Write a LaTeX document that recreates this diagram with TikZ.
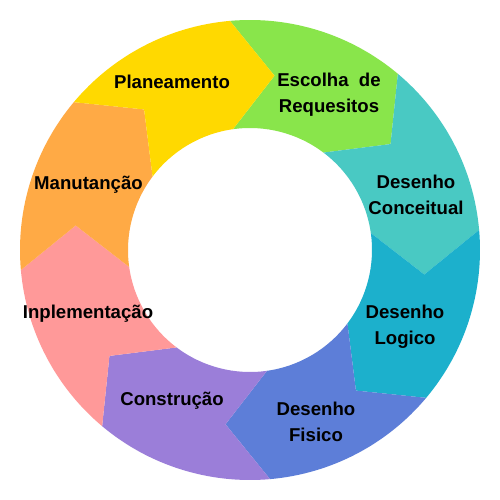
\documentclass[tikz,border=0pt]{standalone}
\usepackage{fontspec}
\setmainfont{Liberation Sans}
\definecolor{cYellow}{HTML}{FFD900}
\definecolor{cGreen}{HTML}{89E54B}
\definecolor{cTeal}{HTML}{49C9C3}
\definecolor{cCyan}{HTML}{1CB0CC}
\definecolor{cBlue}{HTML}{5D7ED8}
\definecolor{cPurple}{HTML}{9B7ED9}
\definecolor{cPink}{HTML}{FF9999}
\definecolor{cOrange}{HTML}{FFAA45}
\tikzset{
  lbl/.style={font=\fontsize{18.6}{26}\selectfont\bfseries, align=center, text=black, inner sep=0pt},
  onel/.style={lbl, text depth=0pt}
}
\begin{document}
\begin{tikzpicture}
\useasboundingbox[fill=white] (-250pt,-250pt) rectangle (250pt,250pt);
\foreach \a/\c in {95/cGreen, 50/cTeal, 5/cCyan, -40/cBlue, -85/cPurple, -130/cPink, -175/cOrange, -220/cYellow} {
  \pgfmathsetmacro\b{\a-45}
  \pgfmathsetmacro\bt{\b-13}
  \pgfmathsetmacro\bi{\b+3}
  \pgfmathsetmacro\ai{\a+3}
  \pgfmathsetmacro\at{\a-13}
  \fill[\c] (\a:230pt) arc[start angle=\a, end angle=\b, radius=230pt]
    -- (\bt:176pt) -- (\bi:122pt)
    arc[start angle=\bi, end angle=\ai, radius=122pt]
    -- (\at:176pt) -- cycle;
}
\node[onel] (plan) at (-78pt,168pt) {Planeamento};
\node[lbl] (esc) at (79pt,155pt) {Escolha\ \ de\\Requesitos};
\node[lbl] (conc) at (166pt,55pt) {Desenho\\Conceitual};
\node[lbl] (log) at (155pt,-77pt) {Desenho\\Logico};
\node[lbl] (fis) at (66pt,-172pt) {Desenho\\Fisico};
\node[onel] (cons) at (-78pt,-149pt) {Construção};
\node[onel] (impl) at (-162pt,-62pt) {Inplementação};
\node[onel] (man) at (-161.5pt,67pt) {Manutanção};
\end{tikzpicture}
\end{document}
